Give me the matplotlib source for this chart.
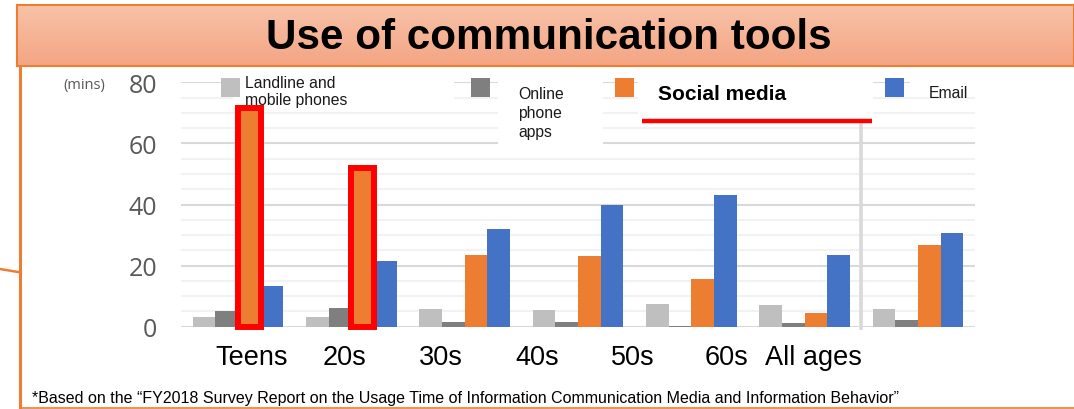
import matplotlib
matplotlib.use("Agg")
import matplotlib.pyplot as plt
import numpy as np
from matplotlib.patches import Rectangle
from matplotlib.lines import Line2D
from matplotlib.colors import LinearSegmentedColormap

# ---------------- data ----------------
categories = ["Teens", "20s", "30s", "40s", "50s", "60s", "All ages"]
series_names = ["Landline and\nmobile phones", "Online\nphone\napps", "Social media", "Email"]
landline = [3.2, 3.2, 5.7, 5.4, 7.5, 7.0, 5.7]
online_apps = [5.0, 6.1, 1.6, 1.5, 0.3, 1.1, 2.1]
social_media = [71.5, 51.9, 23.5, 23.2, 15.7, 4.4, 26.7]
email = [13.4, 21.4, 31.9, 39.7, 43.2, 23.5, 30.7]
highlighted = ["Teens", "20s"]
y_ticks = [0, 20, 40, 60, 80]
title = "Use of communication tools"
unit_label = "(mins)"
footnote = ("*Based on the \u201cFY2018 Survey Report on the Usage Time of Information "
            "Communication Media and Information Behavior\u201d")

# ---------------- style / layout ----------------
colors = ["#bfbfbf", "#7f7f7f", "#ed7d31", "#4472c4"]
label_px = [252, 345, 441, 537, 633, 727, 813]  # x-label centres in pixels
ARIAL = ["Liberation Sans", "DejaVu Sans"]
HUMAN = ["Open Sans", "DejaVu Sans"]

W, H = 1074, 410
fig = plt.figure(figsize=(W / 100, H / 100), dpi=100)
renderer = fig.canvas.get_renderer()


def fx(px):
    return px / W


def fy(py):
    return 1 - py / H


def fit_width(txt, target_px):
    fs = txt.get_fontsize()
    w = txt.get_window_extent(renderer=renderer).width
    txt.set_fontsize(fs * target_px / w)


ax_l, ax_r, ax_t, ax_b = 181.4, 974.5, 83.3, 327.7
ax = fig.add_axes([fx(ax_l), fy(ax_b), fx(ax_r - ax_l), (ax_b - ax_t) / H])

n = len(categories)
x = np.arange(n)
bw = 0.2
all_series = [landline, online_apps, social_media, email]
for k, vals in enumerate(all_series):
    ax.bar(x + (k - 1.5) * bw, vals, width=bw, color=colors[k], zorder=2, linewidth=0)

# red highlight frames around social-media bars
for i, c in enumerate(categories):
    if c in highlighted:
        ax.add_patch(Rectangle((x[i] + 0.5 * bw - bw / 2, 0), bw, social_media[i],
                               fill=False, edgecolor="#ff0000", linewidth=4.3,
                               joinstyle="miter", zorder=3, clip_on=False))

ax.set_xlim(-0.5, n - 0.5)
ax.set_ylim(0, 80)
ax.set_yticks(y_ticks)
ax.set_yticks(np.arange(0, 81, 5), minor=True)
ax.set_axisbelow(True)
ax.grid(which="minor", axis="y", color="#f2f2f2", linewidth=1.5)
ax.grid(which="major", axis="y", color="#d9d9d9", linewidth=1.5)
for s in ax.spines.values():
    s.set_visible(False)
ax.tick_params(axis="y", which="both", length=0, pad=17.5, labelsize=18,
               labelcolor="#595959")
for t in ax.get_yticklabels():
    t.set_family(HUMAN)
ax.set_xticks([])

# category labels (placed as in the slide, not under the bar groups)
for c, px in zip(categories, label_px):
    fig.text(fx(px), fy(358), c, family=ARIAL, fontsize=19.5,
             ha="center", va="center", color="black")

# separator before "All ages"
ax.plot([n - 1.5, n - 1.5], [66.9, -1.1], color="#d9d9d9", linewidth=2.6,
        zorder=1.5, clip_on=False, solid_capstyle="butt")

# white boxes hiding gridlines behind the legend texts
for (x0, y0, x1, y1) in [(233, 74, 454, 105), (498, 74, 603, 150),
                         (638, 74, 873, 119), (910, 74, 977, 92)]:
    ax.add_patch(Rectangle((fx(x0), fy(y1)), fx(x1 - x0), (y1 - y0) / H,
                           transform=fig.transFigure, facecolor="white",
                           edgecolor="none", zorder=0.9, clip_on=False))

# legend markers
for px, col in zip([221, 471, 615, 885], colors):
    ax.add_patch(Rectangle((fx(px), fy(98)), fx(19), 19 / H, transform=fig.transFigure,
                           facecolor=col, edgecolor="none", zorder=3, clip_on=False))

fig.text(fx(245), fy(92), series_names[0], family=ARIAL, fontsize=11.3,
         ha="left", va="center", color="#1a1a1a", linespacing=1.15, zorder=4)
fig.text(fx(518), fy(113.5), series_names[1], family=ARIAL, fontsize=11.3,
         ha="left", va="center", color="#1a1a1a", linespacing=1.3, zorder=4)
fig.text(fx(658), fy(95), series_names[2], family=ARIAL, fontsize=15,
         fontweight="bold", ha="left", va="center", color="black", zorder=4)
fig.text(fx(929), fy(93), series_names[3], family=ARIAL, fontsize=11.3,
         ha="left", va="center", color="#1a1a1a", zorder=4)
fig.add_artist(Line2D([fx(642), fx(872)], [fy(121.7), fy(121.7)], color="#ff0000",
                      linewidth=3.2, solid_capstyle="butt", zorder=4))

fig.text(fx(84), fy(86), unit_label, family=HUMAN, fontsize=10.5, color="#595959",
         ha="center", va="center")

# title banner with gradient
bax = fig.add_axes([fx(17), fy(67), fx(W - 17), 61 / H])
grad = np.linspace(0, 1, 100)[:, None]
cmap = LinearSegmentedColormap.from_list("b", ["#f8c2a8", "#f4a583"])
bax.imshow(grad, aspect="auto", cmap=cmap, extent=[0, 1, 0, 1], origin="upper")
bax.set_xlim(0, 1)
bax.set_ylim(0, 1)
bax.set_xticks([])
bax.set_yticks([])
for s in bax.spines.values():
    s.set_color("#ed7d31")
    s.set_linewidth(1.5)
tt = fig.text(fx(549), fy(38), title, family=ARIAL, fontweight="bold", fontsize=30,
              ha="center", va="center", color="black")
fit_width(tt, 566)

# slide frame lines
fig.add_artist(Line2D([fx(20), fx(20)], [fy(67), fy(410)], color="#ed7d31", linewidth=2.2))
fig.add_artist(Line2D([fx(20), fx(1074)], [fy(409), fy(409)], color="#ed7d31", linewidth=1.2))
fig.add_artist(Line2D([fx(0), fx(18)], [fy(270), fy(273)], color="#ed7d31", linewidth=1.8))

ft = fig.text(fx(32), fy(399), footnote, family=ARIAL, fontsize=11.5, ha="left",
              va="center", color="black")
fit_width(ft, 871)

fig.savefig("out.png", dpi=100)
